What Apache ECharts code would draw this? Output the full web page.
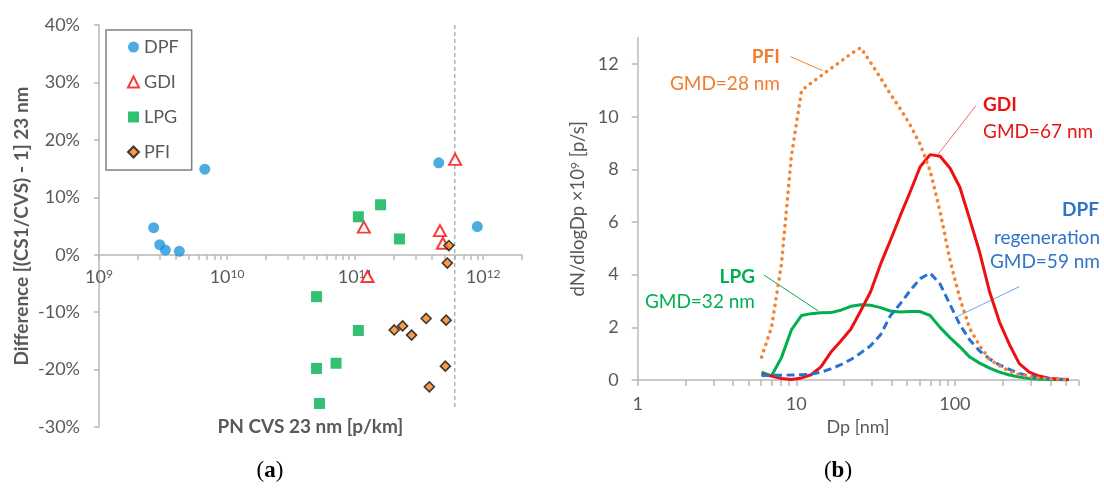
<!DOCTYPE html>
<html>
<head>
<meta charset="utf-8">
<script src="https://cdn.jsdelivr.net/npm/echarts@6/dist/echarts.min.js"></script>
<style>
  html, body { margin: 0; padding: 0; background: #fff; }
  #app { width: 1104px; height: 488px; }
</style>
</head>
<body>
<div id="app"></div>
<script>
// (a) difference CS1 vs CVS, 23 nm, against PN CVS [p/km]; diff in %
var dpfPN = [6.7e9, 2.67e9, 2.98e9, 3.3e9, 4.24e9, 4.5e11, 9.0e11];
var dpfDiff = [14.9, 4.7, 1.75, 0.8, 0.6, 16.0, 4.9];
var gdiPN = [6.04e11, 1.17e11, 4.6e11, 4.85e11, 1.25e11];
var gdiDiff = [16.6, 4.8, 4.2, 2.0, -3.8];
var lpgPN = [1.58e11, 1.06e11, 2.22e11, 5.0e10, 1.06e11, 7.1e10, 5.0e10, 5.27e10];
var lpgDiff = [8.7, 6.6, 2.75, -7.3, -13.2, -18.9, -19.8, -25.9];
var pfiPN = [5.4e11, 5.25e11, 3.59e11, 5.14e11, 2.35e11, 2.02e11, 2.76e11, 5.07e11, 3.8e11];
var pfiDiff = [1.6, -1.45, -11.1, -11.4, -12.4, -13.1, -14.0, -19.4, -23.0];
// vertical dashed reference line
var limitPN = 6e11;
var limitDiff = [40, -27];

// (b) size distributions, dN/dlogDp x1e9 [p/s]
var dpChannels = [6.04, 6.98, 8.06, 9.31, 10.8, 12.4, 14.3, 16.5, 19.1, 22.1, 25.5, 29.4, 34.0, 39.2, 45.3, 52.3,
  60.4, 69.8, 80.6, 93.1, 107.5, 124.1, 143.3, 165.5, 191.1, 220.7, 254.8, 294.3, 339.8, 392.4, 453.2, 523.3];
var pfiDist = [0.87, 2.0, 4.4, 8.5, 11.0, 11.28, 11.55, 11.83, 12.1, 12.39, 12.62, 12.06, 11.47, 10.86, 10.3, 9.68,
  8.95, 7.95, 6.4, 4.55, 3.1, 1.95, 1.3, 0.78, 0.54, 0.33, 0.2, 0.12, 0.07, 0.05, 0.03, 0.02];
var gdiDist = [0.22, 0.15, 0.06, 0.02, 0.08, 0.2, 0.5, 1.05, 1.48, 1.94, 2.63, 3.35, 4.4, 5.3, 6.25, 7.15,
  8.1, 8.56, 8.5, 8.05, 7.32, 6.1, 4.85, 3.35, 2.2, 1.35, 0.62, 0.3, 0.15, 0.07, 0.03, 0.01];
var dpfDist = [0.17, 0.18, 0.18, 0.19, 0.2, 0.22, 0.3, 0.42, 0.58, 0.78, 1.03, 1.3, 1.72, 2.44, 2.9, 3.4,
  3.85, 4.06, 3.65, 2.87, 2.1, 1.52, 1.1, 0.8, 0.57, 0.4, 0.25, 0.15, 0.09, 0.05, 0.03, 0.02];
var lpgDist = [0.3, 0.16, 0.85, 1.9, 2.45, 2.52, 2.55, 2.56, 2.65, 2.8, 2.86, 2.84, 2.75, 2.62, 2.58, 2.6,
  2.6, 2.45, 2.0, 1.61, 1.26, 0.87, 0.64, 0.45, 0.3, 0.19, 0.11, 0.06, 0.03, 0.02, 0.01, 0.01];
var yTicksB = [0, 2, 4, 6, 8, 10, 12];

var FONT = "Lato, 'Open Sans', sans-serif";
var SERIF = "'Liberation Serif', 'DejaVu Serif', serif";
var GRAY = "#595959";
var AXIS = "#B8B8B8";

function pairs(xs, ys) {
  return xs.map(function (x, i) { return [x, ys[i]]; });
}
// log-axis tick positions (1..9 per decade), in log10 units for the overlay axis
function logTicks(e0, e1, maxV) {
  var out = [];
  for (var e = e0; e <= e1; e++) {
    for (var m = 1; m <= 9; m++) {
      var v = m * Math.pow(10, e);
      if (v <= maxV * 1.0001) out.push(Math.log10(v));
    }
  }
  out.push(Math.log10(maxV));
  return out;
}
function isPow10(v) {
  var l = Math.log10(v);
  return Math.abs(l - Math.round(l)) < 1e-6;
}
function label(x, y, text, color, bold, align) {
  return {
    type: "text", x: x, y: y,
    style: {
      text: text, fill: color, font: (bold ? "bold " : "") + "19px " + FONT,
      align: align, verticalAlign: "middle", textAlign: align, textVerticalAlign: "middle"
    }
  };
}

var chartDom = document.getElementById("app");
var myChart = echarts.init(chartDom, null, { renderer: "canvas" });

var option = {
  animation: false,
  textStyle: { fontFamily: FONT },
  grid: [
    { left: 99, top: 25, width: 422.7, height: 402, outerBoundsMode: "none", containLabel: false },
    { left: 637.7, top: 37.7, width: 440.6, height: 342.3, outerBoundsMode: "none", containLabel: false }
  ],
  legend: {
    data: ["DPF", "GDI", "LPG", "PFI"],
    orient: "vertical",
    left: 106,
    top: 30,
    padding: [8, 13, 9, 21],
    itemGap: 17,
    itemWidth: 11,
    itemHeight: 11,
    borderColor: "#808080",
    borderWidth: 1.5,
    textStyle: { fontSize: 18, color: GRAY, fontFamily: FONT }
  },
  xAxis: [
    {
      // data axis of panel (a); labels are pulled up to the 0% line
      gridIndex: 0, type: "log", logBase: 10, min: 1e9, max: 2e12, position: "bottom",
      name: "PN CVS 23 nm [p/km]", nameLocation: "middle", nameGap: -10, nameMoveOverlap: false,
      nameTextStyle: { fontSize: 19, fontWeight: "bold", color: GRAY, fontFamily: FONT },
      axisLine: { show: false, onZero: false },
      axisTick: { show: false },
      splitLine: { show: false },
      axisLabel: {
        margin: -159, color: GRAY, fontFamily: FONT, hideOverlap: false,
        formatter: function (v) {
          if (!isPow10(v)) return "";
          return "{b|10}{s|" + Math.round(Math.log10(v)) + "}";
        },
        rich: {
          b: { fontSize: 18, color: GRAY, fontFamily: FONT },
          s: { fontSize: 12, color: GRAY, fontFamily: FONT, verticalAlign: "top" }
        }
      }
    },
    {
      // axis line + decade ticks of panel (a), sitting on 0%
      gridIndex: 0, type: "value", min: 9, max: Math.log10(2e12), position: "bottom",
      axisLine: { show: true, onZero: true, onZeroAxisIndex: 0, lineStyle: { color: AXIS, width: 1.5 } },
      axisTick: { show: true, length: 5, customValues: logTicks(9, 12, 2e12), lineStyle: { color: AXIS, width: 1.5 } },
      axisLabel: { show: false },
      splitLine: { show: false }
    },
    {
      gridIndex: 1, type: "log", logBase: 10, min: 1, max: 600, position: "bottom",
      name: "Dp [nm]", nameLocation: "middle", nameGap: 34,
      nameTextStyle: { fontSize: 18, color: GRAY, fontFamily: FONT },
      axisLine: { onZero: false, lineStyle: { color: AXIS, width: 1.5 } },
      axisTick: { show: false },
      splitLine: { show: false },
      axisLabel: {
        margin: 15, fontSize: 18, color: GRAY, fontFamily: FONT,
        formatter: function (v) { return isPow10(v) ? String(Math.round(v)) : ""; }
      }
    },
    {
      gridIndex: 1, type: "value", min: 0, max: Math.log10(600), position: "bottom",
      axisLine: { show: false, onZero: false },
      axisTick: { show: true, length: 6, customValues: logTicks(0, 2, 600), lineStyle: { color: AXIS, width: 1.5 } },
      axisLabel: { show: false },
      splitLine: { show: false }
    }
  ],
  yAxis: [
    {
      gridIndex: 0, type: "value", min: -30, max: 40, interval: 10,
      name: "Difference [(CS1/CVS) - 1] 23 nm", nameLocation: "middle", nameGap: 68,
      nameTextStyle: { fontSize: 19, fontWeight: "bold", color: GRAY, fontFamily: FONT },
      axisLine: { show: true, lineStyle: { color: AXIS, width: 1.5 } },
      axisTick: { show: true, length: 5, lineStyle: { color: AXIS, width: 1.5 } },
      splitLine: { show: false },
      axisLabel: {
        margin: 19, fontSize: 18, color: GRAY, fontFamily: FONT,
        formatter: function (v) { return Math.round(v) + "%"; }
      }
    },
    {
      gridIndex: 1, type: "value", min: 0, max: 13, interval: 2,
      name: "dN/dlogDp \u00d710{s|9} [p/s]", nameLocation: "middle", nameGap: 50,
      nameTextStyle: {
        fontSize: 18.5, color: GRAY, fontFamily: FONT,
        rich: { s: { fontSize: 12, color: GRAY, fontFamily: FONT, verticalAlign: "top" } }
      },
      axisLine: { show: true, lineStyle: { color: AXIS, width: 1.5 } },
      axisTick: { show: true, length: 6, customValues: yTicksB, lineStyle: { color: AXIS, width: 1.5 } },
      splitLine: { show: false },
      axisLabel: {
        margin: 19, fontSize: 18, color: GRAY, fontFamily: FONT, customValues: yTicksB,
        formatter: function (v) { return v > 12 ? "" : String(v); }
      }
    }
  ],
  series: [
    {
      name: "limit", type: "line", xAxisIndex: 0, yAxisIndex: 0, silent: true,
      data: [[limitPN, limitDiff[0]], [limitPN, limitDiff[1]]],
      symbol: "none", lineStyle: { color: "#A6A6A6", width: 1.3, type: [4, 3] }, z: 1
    },
    {
      name: "DPF", type: "scatter", xAxisIndex: 0, yAxisIndex: 0,
      data: pairs(dpfPN, dpfDiff), symbol: "circle", symbolSize: 11,
      itemStyle: { color: "#1F97DA" }, z: 3
    },
    {
      name: "GDI", type: "scatter", xAxisIndex: 0, yAxisIndex: 0,
      data: pairs(gdiPN, gdiDiff), symbol: "triangle", symbolSize: [12, 11],
      itemStyle: { color: "#ffffff", borderColor: "#F20D0D", borderWidth: 2 }, z: 3
    },
    {
      name: "LPG", type: "scatter", xAxisIndex: 0, yAxisIndex: 0,
      data: pairs(lpgPN, lpgDiff), symbol: "rect", symbolSize: 11,
      itemStyle: { color: "#00B050" }, z: 3
    },
    {
      name: "PFI", type: "scatter", xAxisIndex: 0, yAxisIndex: 0,
      data: pairs(pfiPN, pfiDiff), symbol: "diamond", symbolSize: 10,
      itemStyle: { color: "#F5821F", borderColor: "#111111", borderWidth: 1.6 }, z: 4
    },
    {
      name: "LPG size", type: "line", xAxisIndex: 2, yAxisIndex: 1,
      data: pairs(dpChannels, lpgDist), symbol: "none",
      lineStyle: { color: "#00B050", width: 3 }
    },
    {
      name: "GDI size", type: "line", xAxisIndex: 2, yAxisIndex: 1,
      data: pairs(dpChannels, gdiDist), symbol: "none",
      lineStyle: { color: "#EE1111", width: 3 }
    },
    {
      name: "DPF size", type: "line", xAxisIndex: 2, yAxisIndex: 1,
      data: pairs(dpChannels, dpfDist), symbol: "none",
      lineStyle: { color: "#2A72D0", width: 3, type: [8, 4.5] }
    },
    {
      name: "PFI size", type: "line", xAxisIndex: 2, yAxisIndex: 1,
      data: pairs(dpChannels, pfiDist), symbol: "none",
      lineStyle: { color: "#F58231", width: 3.6, type: [0.1, 6.6], cap: "round" }
    }
  ],
  graphic: [
    // callout leaders
    { type: "line", shape: { x1: 790.7, y1: 56.7, x2: 822.7, y2: 70.7 }, style: { stroke: "#F58231", lineWidth: 1 } },
    { type: "line", shape: { x1: 975.7, y1: 106, x2: 938.3, y2: 154 }, style: { stroke: "#F06A6A", lineWidth: 1 } },
    { type: "line", shape: { x1: 1019.3, y1: 286.7, x2: 958.3, y2: 316 }, style: { stroke: "#6AAAE6", lineWidth: 1 } },
    { type: "line", shape: { x1: 764, y1: 275, x2: 818.3, y2: 311 }, style: { stroke: "#00B050", lineWidth: 1 } },
    // callout labels
    label(780, 57, "PFI", "#F07D2E", true, "right"),
    label(780, 84, "GMD=28 nm", "#F07D2E", false, "right"),
    label(983, 105, "GDI", "#E81414", true, "left"),
    label(983, 132, "GMD=67 nm", "#E81414", false, "left"),
    label(1099, 210, "DPF", "#2E74CC", true, "right"),
    label(1100, 238, "regeneration", "#2E74CC", false, "right"),
    label(1100, 262, "GMD=59 nm", "#2E74CC", false, "right"),
    label(755, 277, "LPG", "#00B050", true, "right"),
    label(755, 302, "GMD=32 nm", "#00B050", false, "right"),
    // panel tags
    {
      type: "text", x: 270, y: 471,
      style: {
        text: "({t|a})", fill: "#000", font: "23px " + SERIF,
        rich: { t: { fontWeight: "bold", fontSize: 23, fontFamily: SERIF, fill: "#000", color: "#000" } },
        align: "center", verticalAlign: "middle", textAlign: "center", textVerticalAlign: "middle"
      }
    },
    {
      type: "text", x: 838, y: 471,
      style: {
        text: "({t|b})", fill: "#000", font: "23px " + SERIF,
        rich: { t: { fontWeight: "bold", fontSize: 23, fontFamily: SERIF, fill: "#000", color: "#000" } },
        align: "center", verticalAlign: "middle", textAlign: "center", textVerticalAlign: "middle"
      }
    }
  ]
};

option && myChart.setOption(option);
</script>
</body>
</html>
